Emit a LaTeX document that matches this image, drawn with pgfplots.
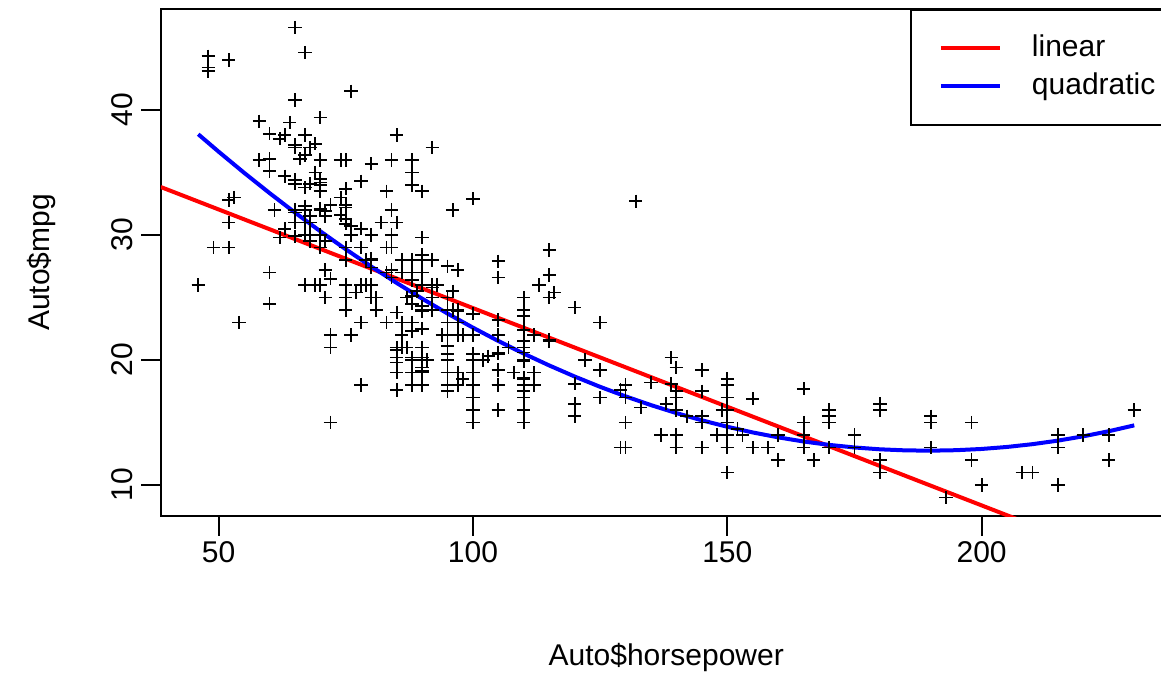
\documentclass[border=0pt]{standalone}
\usepackage{fontspec}
\setmainfont{Liberation Sans}
\usepackage{pgfplots}
\pgfplotsset{compat=1.18}
\begin{document}
\fontsize{12}{14.4}\selectfont
\begin{tikzpicture}
\begin{axis}[
  scale only axis,
  width=404.36pt, height=203.04pt,
  xmin=38.64, xmax=237.36, ymin=7.496, ymax=48.104,
  axis line style={line width=0.8pt},
  tick align=outside, major tick length=7.8pt,
  tick style={black, line width=0.8pt},
  xtick={50,100,150,200}, ytick={10,20,30,40},
  xtick pos=bottom, ytick pos=left,
  /pgf/number format/assume math mode=true,
  tick label style={font=\fontsize{12}{14.4}\selectfont},
  xticklabel style={anchor=north, inner sep=0pt},
  yticklabel style={rotate=90, anchor=south, inner sep=0pt},
  xticklabel shift=2.3pt,
  yticklabel shift=3.1pt,
  xlabel={Auto\$horsepower}, ylabel={Auto\$mpg},
  xlabel style={at={(axis description cs:0.5,-0.29305)}, anchor=base, inner sep=0pt, font=\fontsize{12}{14.4}\selectfont},
  ylabel style={at={(axis description cs:-0.1105,0.5)}, anchor=base, inner sep=0pt, font=\fontsize{12}{14.4}\selectfont},
  legend style={draw=black, line width=0.8pt, at={(rel axis cs:0.7411,1)}, anchor=north west,
    inner xsep=11.2pt, inner ysep=7.8pt, row sep=0pt, column sep=12pt,
    font=\fontsize{12}{14.4}\selectfont,
    nodes={inner sep=0pt, minimum height=15.2pt}},
  legend cell align=left,
  legend image code/.code={\draw[#1] (0pt,0pt) -- (23.6pt,0pt);},
]
\addplot[only marks, mark=+, mark size=2.67pt, mark options={line width=0.75pt, black}, forget plot] coordinates {
(130,18)(165,15)(150,18)(150,16)(140,17)(198,15)(220,14)(215,14)(225,14)(190,15)
(170,15)(160,14)(150,15)(225,14)(95,24)(95,22)(97,18)(85,21)(88,27)(46,26)
(87,25)(90,24)(95,25)(113,26)(90,21)(215,10)(200,10)(210,11)(193,9)(88,27)
(90,28)(95,25)(100,19)(105,16)(100,17)(88,19)(100,18)(165,14)(175,14)(153,14)
(150,14)(180,12)(170,13)(175,13)(110,18)(72,22)(100,19)(88,18)(86,23)(90,28)
(70,30)(76,30)(65,31)(69,35)(60,27)(70,26)(95,24)(80,25)(54,23)(90,20)
(86,21)(165,13)(175,14)(150,15)(153,14)(150,17)(208,11)(155,13)(160,12)(190,13)
(97,19)(150,15)(130,13)(140,13)(150,14)(112,18)(76,22)(87,21)(69,26)(86,22)
(92,28)(97,23)(80,28)(88,27)(175,13)(150,14)(145,13)(137,14)(150,15)(198,12)
(150,13)(158,13)(150,14)(215,13)(225,12)(175,13)(105,18)(100,16)(100,18)(88,18)
(95,23)(46,26)(150,11)(167,12)(170,13)(180,12)(100,18)(88,20)(72,21)(94,22)
(90,18)(85,19)(107,21)(90,26)(145,15)(230,16)(49,29)(75,24)(91,20)(112,19)
(150,15)(110,24)(122,20)(180,11)(95,20)(100,19)(100,15)(67,31)(80,26)(65,32)
(75,25)(100,16)(110,16)(105,18)(140,16)(150,13)(150,14)(140,14)(150,14)(83,29)
(67,26)(78,26)(52,31)(61,32)(75,28)(75,24)(75,26)(97,24)(93,26)(67,31)
(95,19)(105,18)(72,15)(72,15)(170,16)(145,15)(150,16)(148,14)(110,17)(105,16)
(110,15)(95,18)(110,21)(110,20)(129,13)(75,29)(83,23)(100,20)(78,23)(96,24)
(71,25)(97,24)(97,18)(70,29)(90,19)(95,23)(88,23)(98,22)(115,25)(53,33)
(86,28)(81,25)(92,25)(79,26)(83,27)(140,17.5)(150,16)(120,15.5)(152,14.5)(100,22)
(105,22)(81,24)(90,22.5)(52,29)(60,24.5)(70,29)(53,33)(100,20)(78,18)(110,18.5)
(95,17.5)(71,29.5)(70,32)(75,28)(72,26.5)(102,20)(150,13)(88,19)(108,19)(120,16.5)
(180,16.5)(145,13)(130,13)(150,13)(68,31.5)(80,30)(58,36)(96,25.5)(70,33.5)(145,17.5)
(110,17)(145,15.5)(130,15)(110,17.5)(105,20.5)(100,19)(98,18.5)(180,16)(170,15.5)(190,15.5)
(149,16)(78,29)(88,24.5)(75,26)(89,25.5)(63,30.5)(83,33.5)(67,30)(78,30.5)(97,22)
(110,21.5)(110,21.5)(48,43.1)(66,36.1)(52,32.8)(70,39.4)(60,36.1)(110,19.9)(140,19.4)(139,20.2)
(105,19.2)(95,20.5)(85,20.2)(88,25.1)(100,20.5)(90,19.4)(105,20.6)(85,20.8)(110,18.6)(120,18.1)
(145,19.2)(165,17.7)(139,18.1)(140,17.5)(68,30)(95,27.5)(97,27.2)(75,30.9)(95,21.1)(105,23.2)
(85,23.8)(97,23.9)(103,20.3)(125,17)(115,21.6)(133,16.2)(71,31.5)(68,29.5)(115,21.5)(85,19.8)
(88,22.3)(90,20.2)(110,20.6)(130,17)(129,17.6)(138,16.5)(135,18.2)(155,16.9)(142,15.5)(125,19.2)
(150,18.5)(71,31.9)(65,34.1)(80,35.7)(80,27.4)(77,25.4)(125,23)(71,27.2)(90,23.9)(70,34.2)
(70,34.5)(65,31.8)(69,37.3)(90,28.4)(115,28.8)(115,26.8)(90,33.5)(76,41.5)(60,38.1)(70,32.1)
(65,37.2)(90,28)(88,26.4)(90,24.3)(90,19.1)(78,34.3)(90,29.8)(75,31.3)(92,37)(75,32.2)
(65,46.6)(105,27.9)(65,40.8)(48,44.3)(48,43.4)(67,36.4)(67,30)(67,44.6)(67,33.8)(62,29.8)
(132,32.7)(100,23.7)(88,35)(72,32.4)(84,27.2)(84,26.6)(92,25.8)(110,23.5)(84,30)(58,39.1)
(64,39)(60,35.1)(67,32.3)(65,37)(62,37.7)(68,34.1)(63,34.7)(65,34.4)(65,29.9)(74,33)
(75,33.7)(75,32.4)(100,32.9)(74,31.6)(80,28.1)(76,30.7)(116,25.4)(120,24.2)(110,22.4)(105,26.6)
(88,20.2)(85,17.6)(88,28)(88,27)(88,34)(85,31)(84,29)(90,27)(92,24)(74,36)
(68,37)(68,31)(63,38)(70,36)(88,36)(75,36)(70,34)(67,38)(67,32)(67,38)
(110,25)(85,38)(92,26)(112,22)(96,32)(84,36)(90,27)(86,27)(52,44)(84,32)
(79,28)(82,31)
};
\addplot[red, line width=1.6pt] coordinates {(38.64,33.837)(237.36,2.469)};
\addlegendentry{linear}
\addplot[blue, line width=1.6pt] coordinates {
(46,38.059)(50,36.667)(55,34.982)(60,33.359)(65,31.797)(70,30.296)(75,28.857)(80,27.480)
(85,26.164)(90,24.910)(95,23.717)(100,22.586)(105,21.516)(110,20.508)(115,19.562)(120,18.677)
(125,17.853)(130,17.091)(135,16.390)(140,15.751)(145,15.174)(150,14.658)(155,14.203)(160,13.811)
(165,13.479)(170,13.209)(175,13.001)(180,12.854)(185,12.769)(190,12.745)(195,12.783)(200,12.882)
(205,13.043)(210,13.265)(215,13.549)(220,13.895)(225,14.301)(230,14.770)};
\addlegendentry{quadratic}
\end{axis}
\pgfresetboundingbox
\path[use as bounding box] (-64.32pt,-62.68pt) rectangle (400.08pt,206.52pt);
\end{tikzpicture}
\end{document}
